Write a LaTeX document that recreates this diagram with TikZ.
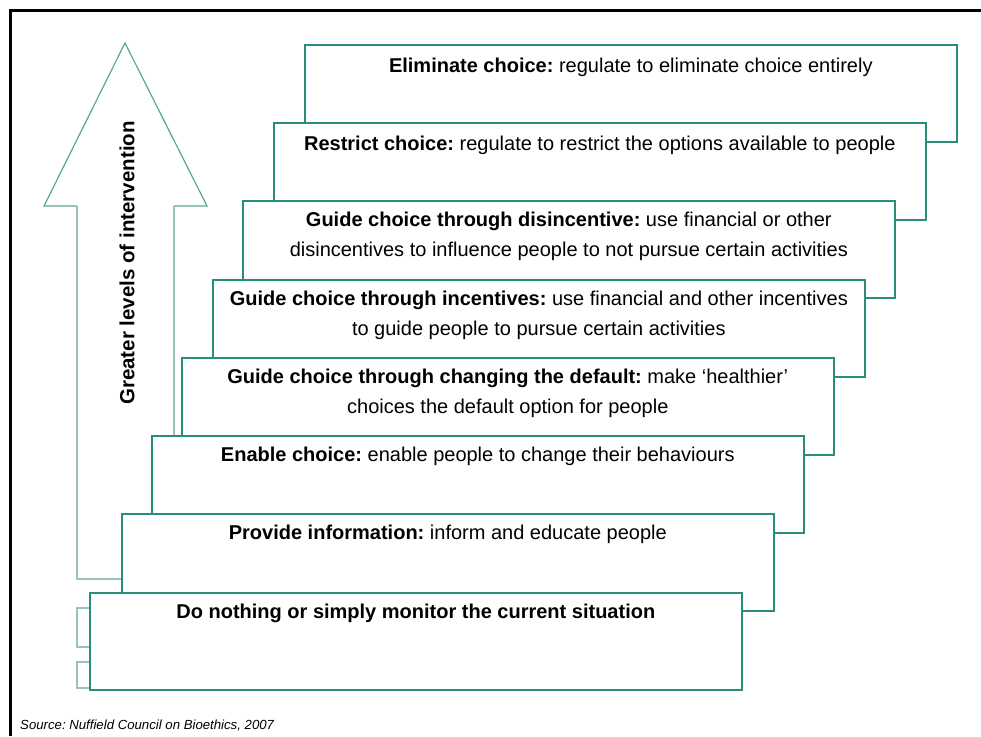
\documentclass[tikz,border=0pt]{standalone}
\usepackage{fontspec}
\setmainfont{Liberation Sans}
\usepackage{xcolor}
\usepackage{tikz}
\usetikzlibrary{positioning,calc}
\definecolor{boxteal}{RGB}{42,140,122}
\definecolor{arrowteal}{RGB}{90,165,150}
\definecolor{shaftteal}{RGB}{150,196,186}
\newcommand{\boxfont}{\fontsize{20}{30}\selectfont}
\frenchspacing

\begin{document}
\begin{tikzpicture}[x = 1pt, y = -1pt,
    stepbox/.style = {draw = boxteal, line width = 1.6pt, fill = white, anchor = north west,
      minimum width = 652pt, minimum height = 97pt, inner sep = 0pt},
    steptext/.style = {font = \boxfont, align = center, inner sep = 0pt, anchor = north}]
    \useasboundingbox (0,0) rectangle (981,736);
    % frame
    \draw[line width = 3pt] (10.5,736) -- (10.5,10.5) -- (981,10.5);
    % arrow
    \draw[arrowteal, line width = 1.2pt, line join = miter] (77,206) -- (44,206) -- (125,43) -- (207,206) -- (174,206);
    \draw[shaftteal, line width = 1.4pt] (121,579) -- (77,579) -- (77,206);
    \draw[shaftteal, line width = 1.4pt] (174,206) -- (174,435);
    \draw[shaftteal, line width = 1.4pt] (89,608) -- (77,608) -- (77,647) -- (89,647);
    \draw[shaftteal, line width = 1.4pt] (89,662) -- (77,662) -- (77,688) -- (175,688);
    \node[font = \fontsize{20.5}{22}\selectfont\bfseries, rotate = 90] (lvl) at (127,263) {Greater levels of intervention};
    % steps
    \node[stepbox] (b1) at (304,44) {};
    \node[stepbox] (b2) at (273,122) {};
    \node[stepbox] (b3) at (242,200) {};
    \node[stepbox] (b4) at (212,279) {};
    \node[stepbox] (b5) at (181,357) {};
    \node[stepbox] (b6) at (151,435) {};
    \node[stepbox] (b7) at (121,513) {};
    \node[stepbox] (b8) at (89,592) {};
        % Labels
    \node[steptext, below = 14pt of b1.north] (t1) {\textbf{Eliminate choice:} regulate to eliminate choice entirely};
    \node[steptext, below = 14pt of b2.north] (t2) {\textbf{Restrict choice:} regulate to restrict the options available to people};
    \node[steptext, below = 12pt of b3.north] (t3) {\textbf{Guide choice through disincentive:} use financial or other\\disincentives to influence people to not pursue certain activities};
    \node[steptext, below = 12pt of b4.north] (t4) {\textbf{Guide choice through incentives:} use financial and other incentives\\to guide people to pursue certain activities};
    \node[steptext, below = 12pt of b5.north] (t5) {\textbf{Guide choice through changing the default:} make ‘healthier’\\choices the default option for people};
    \node[steptext, below = 12pt of b6.north] (t6) {\textbf{Enable choice:} enable people to change their behaviours};
    \node[steptext, below = 12pt of b7.north] (t7) {\textbf{Provide information:} inform and educate people};
    \node[steptext, below = 12pt of b8.north] (t8) {\textbf{Do nothing or simply monitor the current situation}};
    \node[anchor = west, font = \fontsize{13.2}{15}\selectfont\itshape, inner sep = 0pt] (src) at (20,726) {Source: Nuffield Council on Bioethics, 2007};
  \end{tikzpicture}
\end{document}
